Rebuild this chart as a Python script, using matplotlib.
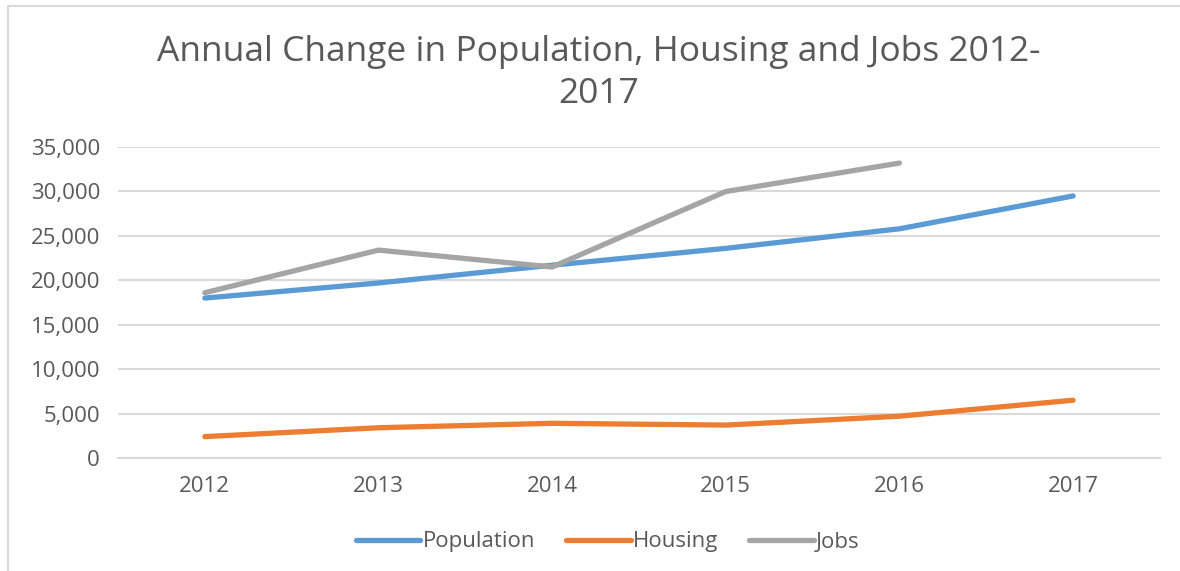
import matplotlib
matplotlib.use("Agg")
import matplotlib.pyplot as plt
from matplotlib.patches import Rectangle

years = ["2012", "2013", "2014", "2015", "2016", "2017"]
population = [18000, 19700, 21700, 23600, 25800, 29500]
housing = [2400, 3400, 3900, 3700, 4700, 6500]
jobs = [18600, 23400, 21500, 30000, 33200]

plt.rcParams["font.family"] = ["Open Sans", "DejaVu Sans"]
text_color = "#595959"
grid_color = "#d9d9d9"

fig = plt.figure(figsize=(11.8, 5.71), dpi=100)
ax = fig.add_axes([0.1, 0.198, 0.883, 0.5444])

x = range(len(years))
ax.plot(x, population, color="#5b9bd5", lw=3.8, solid_capstyle="round", label="Population")
ax.plot(x, housing, color="#ed7d31", lw=3.8, solid_capstyle="round", label="Housing")
ax.plot(range(len(jobs)), jobs, color="#a5a5a5", lw=3.8, solid_capstyle="round", label="Jobs")

ax.set_xlim(-0.5, len(years) - 0.5)
ax.set_ylim(0, 35000)
ax.set_yticks(range(0, 35001, 5000))
ax.set_yticklabels([f"{v:,}" for v in range(0, 35001, 5000)])
ax.set_xticks(list(x))
ax.set_xticklabels(years)
ax.grid(axis="y", color=grid_color, lw=1.5)
ax.set_axisbelow(True)
for s in ["top", "right", "left"]:
    ax.spines[s].set_visible(False)
ax.spines["bottom"].set_color(grid_color)
ax.spines["bottom"].set_linewidth(1.5)
ax.tick_params(length=0, labelsize=16, labelcolor=text_color)
ax.tick_params(axis="y", pad=13)
ax.tick_params(axis="x", pad=13)

fig.text(0.507, 0.872, "Annual Change in Population, Housing and Jobs 2012-\n2017",
         ha="center", va="center", fontsize=25.5, color=text_color, linespacing=1.3)

fig.legend(loc="center", bbox_to_anchor=(0.515, 1 - 542 / 571), ncol=3, frameon=False,
           fontsize=16, labelcolor=text_color, handlelength=2.9, handletextpad=0.1,
           columnspacing=1.4)

fig.patches.append(Rectangle((8 / 1180, -0.1), 1.5, 1.1 - 6 / 571, transform=fig.transFigure,
                             fill=False, edgecolor=grid_color, lw=1.5))

fig.savefig("out.png", dpi=100)
